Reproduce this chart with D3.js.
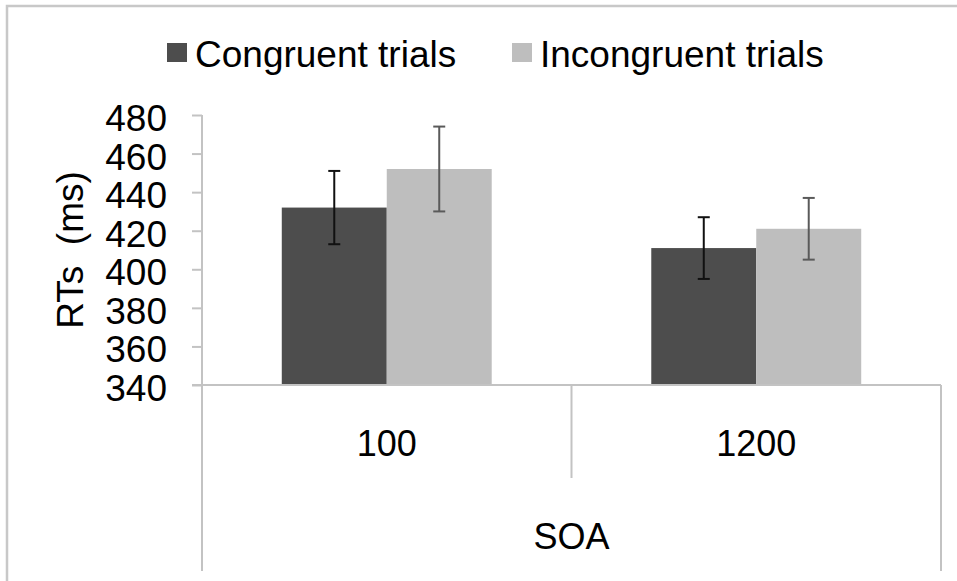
<!DOCTYPE html>
<html>
<head>
<meta charset="utf-8">
<script src="https://cdn.jsdelivr.net/npm/d3@7"></script>
<style>
  html, body { margin: 0; padding: 0; background: #fff; }
  svg { display: block; font-family: "Liberation Sans", Arial, sans-serif; }
</style>
</head>
<body>
<svg id="chart" width="957" height="581"></svg>
<script>
// Mean response times (ms) by SOA and trial type, with error half-widths
const categories = ["100", "1200"];
const seriesNames = ["Congruent trials", "Incongruent trials"];
const congruent = [432, 411];
const incongruent = [452, 421];
const congruentErr = [19, 16];
const incongruentErr = [22, 16];
const yTicks = [340, 360, 380, 400, 420, 440, 460, 480];
const groupLabel = "SOA";
const yTitle = "RTs  (ms)";

const fills = ["#4d4d4d", "#bebebe"];
const errColors = ["#111111", "#5a5a5a"];
const axisColor = "#c3c3c3";

const svg = d3.select("#chart");

// chart frame
svg.append("rect")
  .attr("x", 7).attr("y", 6)
  .attr("width", 1000).attr("height", 700)
  .attr("fill", "none")
  .attr("stroke", "#c8c8c8")
  .attr("stroke-width", 2.5);

const plot = { left: 202, right: 941, top: 115, bottom: 385 };

const y = d3.scaleLinear().domain([340, 480]).range([plot.bottom, plot.top]);
const x0 = d3.scaleBand().domain(categories).range([plot.left, plot.right]).padding(0);
const x1 = d3.scaleBand().domain(seriesNames).range([0, x0.bandwidth()])
  .paddingInner(0).paddingOuter(0.76);

const values = [congruent, incongruent];
const errs = [congruentErr, incongruentErr];

// bars
seriesNames.forEach((s, si) => {
  svg.append("g").selectAll("rect")
    .data(categories)
    .join("rect")
    .attr("x", (c) => x0(c) + x1(s))
    .attr("width", x1.bandwidth())
    .attr("y", (c, i) => y(values[si][i]))
    .attr("height", (c, i) => y(340) - y(values[si][i]))
    .attr("fill", fills[si]);
});

// error bars
seriesNames.forEach((s, si) => {
  const g = svg.append("g").attr("stroke", errColors[si]).attr("stroke-width", 2);
  categories.forEach((c, i) => {
    const cx = x0(c) + x1(s) + x1.bandwidth() / 2;
    const hi = y(values[si][i] + errs[si][i]);
    const lo = y(values[si][i] - errs[si][i]);
    g.append("line").attr("x1", cx).attr("x2", cx).attr("y1", hi).attr("y2", lo);
    g.append("line").attr("x1", cx - 6).attr("x2", cx + 6).attr("y1", hi).attr("y2", hi);
    g.append("line").attr("x1", cx - 6).attr("x2", cx + 6).attr("y1", lo).attr("y2", lo);
  });
});

// y axis
const yAxis = d3.axisLeft(y).tickValues(yTicks).tickSize(10).tickPadding(25).tickSizeOuter(0);
const yg = svg.append("g").attr("transform", `translate(${plot.left},0)`).call(yAxis);
yg.select(".domain").remove();
yg.selectAll(".tick line").attr("stroke", axisColor).attr("stroke-width", 2);
yg.selectAll(".tick text")
  .attr("fill", "#000")
  .attr("font-size", 37)
  .attr("font-family", "Liberation Sans, Arial, sans-serif")
  .attr("dy", "0.42em");

// axis lines: vertical value axis, baseline and category dividers
const lines = svg.append("g").attr("stroke", axisColor).attr("stroke-width", 2);
lines.append("line").attr("x1", plot.left).attr("x2", plot.left)
  .attr("y1", plot.top).attr("y2", 571);
lines.append("line").attr("x1", plot.left - 10).attr("x2", plot.right)
  .attr("y1", plot.bottom).attr("y2", plot.bottom);
lines.append("line").attr("x1", plot.right).attr("x2", plot.right)
  .attr("y1", plot.bottom).attr("y2", 571);
lines.append("line")
  .attr("x1", x0(categories[1])).attr("x2", x0(categories[1]))
  .attr("y1", plot.bottom).attr("y2", 478);

// category labels
svg.append("g").selectAll("text")
  .data(categories)
  .join("text")
  .attr("x", (c) => x0(c) + x0.bandwidth() / 2)
  .attr("y", 456)
  .attr("text-anchor", "middle")
  .attr("font-size", 36)
  .text((c) => c);

svg.append("text")
  .attr("x", (plot.left + plot.right) / 2)
  .attr("y", 549)
  .attr("text-anchor", "middle")
  .attr("font-size", 36)
  .text(groupLabel);

// y title
svg.append("text")
  .attr("transform", "translate(83,250) rotate(-90)")
  .attr("text-anchor", "middle")
  .attr("font-size", 37)
  .attr("xml:space", "preserve")
  .style("white-space", "pre")
  .text(yTitle);

// legend
const legendX = [167, 512];
const legend = svg.append("g");
seriesNames.forEach((s, si) => {
  legend.append("rect")
    .attr("x", legendX[si]).attr("y", 43)
    .attr("width", 20).attr("height", 19)
    .attr("fill", fills[si]);
  legend.append("text")
    .attr("x", legendX[si] + 28).attr("y", 67)
    .attr("font-size", 37)
    .text(s);
});
</script>
</body>
</html>
